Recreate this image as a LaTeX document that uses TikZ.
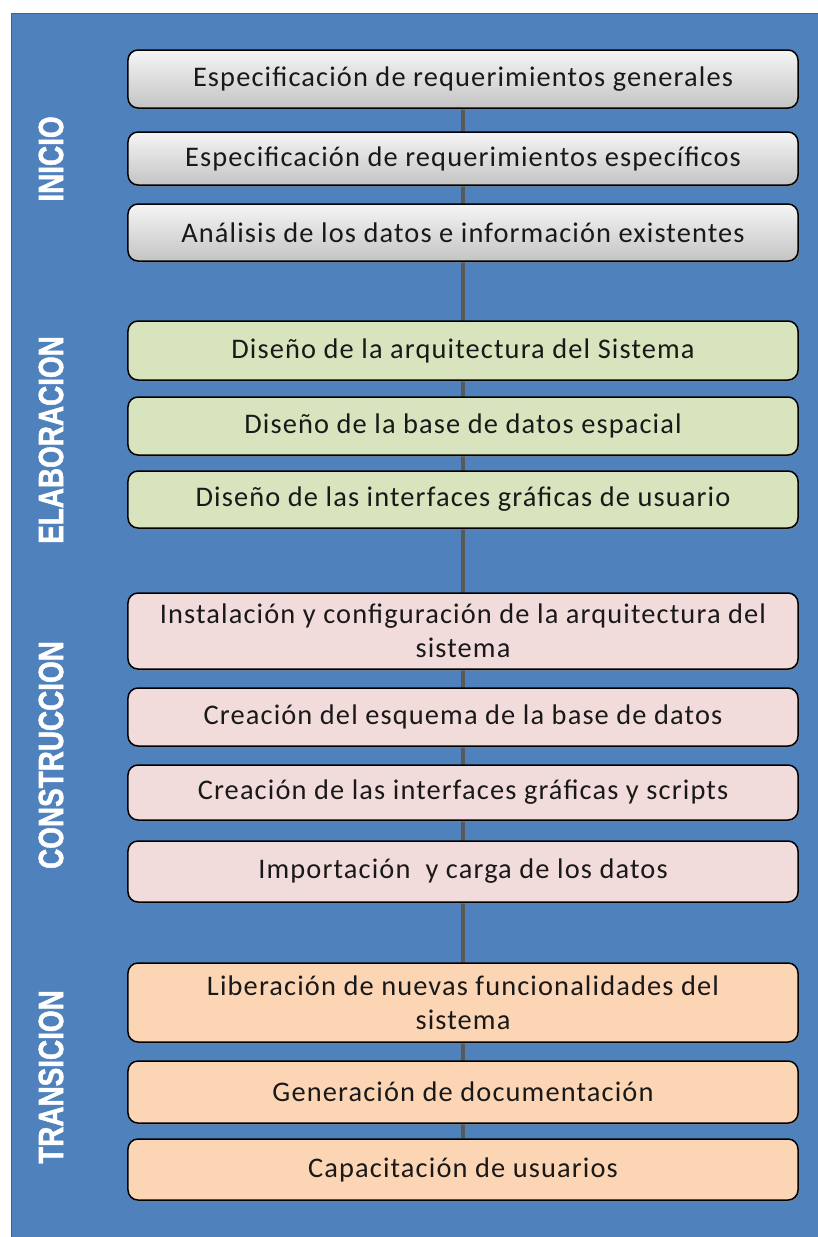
\documentclass[tikz,border=0pt]{standalone}
\usepackage{fontspec}
\setmainfont{Carlito}[LetterSpace=4]
\newfontfamily\phasefont{Liberation Sans Bold}[FakeBold=1.6]
\usetikzlibrary{shadows,backgrounds}

\definecolor{panelblue}{HTML}{4F81BD}
\definecolor{panelline}{HTML}{3A6594}
\definecolor{grayTop}{HTML}{F5F5F5}
\definecolor{grayBot}{HTML}{C4C4C4}
\definecolor{elabFill}{HTML}{D7E4BD}
\definecolor{constFill}{HTML}{F2DCDB}
\definecolor{tranFill}{HTML}{FCD5B5}
\definecolor{spine}{HTML}{595959}

\begin{document}
\begin{tikzpicture}[x=1bp,y=-1bp]
\tikzset{task/.style={draw=black, line width=1.5bp, rounded corners=10bp, minimum width=670bp, inner sep=2bp, align=center, text=black!90, font=\fontsize{28.5}{34}\selectfont, drop shadow={shadow xshift=1.5bp,shadow yshift=-2bp,opacity=.5}}}
\tikzset{phase/.style={rotate=90, text=white, inner sep=0pt, font=\phasefont\fontsize{35}{35}\selectfont}}
\useasboundingbox (0,0) rectangle (818,1237);

% INICIO
\node[task, top color=grayTop, bottom color=grayBot, minimum height=58bp] (gral) at (463,79) {Especificación de requerimientos generales};
\node[task, top color=grayTop, bottom color=grayBot, minimum height=53bp] (espec) at (463,158.5) {Especificación de requerimientos específicos};
\node[task, top color=grayTop, bottom color=grayBot, minimum height=57bp] (analisis) at (463,232.5) {Análisis de los datos e información existentes};
\node[phase] (inicio) at (51,159) {\scalebox{0.8}[1]{INICIO}};

% ELABORACION
\node[task, fill=elabFill, minimum height=59bp] (arq) at (463,350.5) {Diseño de la arquitectura del Sistema};
\node[task, fill=elabFill, minimum height=58bp] (bd) at (463,426) {Diseño de la base de datos espacial};
\node[task, fill=elabFill, minimum height=57bp] (gui) at (463,499.5) {Diseño de las interfaces gráficas de usuario};
\node[phase] (elab) at (51,440) {\scalebox{0.8}[1]{ELABORACION}};

% CONSTRUCCION
\node[task, fill=constFill, minimum height=76bp] (instal) at (463,631) {Instalación y configuración de la arquitectura del\\sistema};
\node[task, fill=constFill, minimum height=58bp] (esquema) at (463,717) {Creación del esquema de la base de datos};
\node[task, fill=constFill, minimum height=55bp] (scripts) at (463,792.5) {Creación de las interfaces gráficas y scripts};
\node[task, fill=constFill, minimum height=61bp] (carga) at (463,871.5) {Importación~ y carga de los datos};
\node[phase] (constr) at (51,755) {\scalebox{0.8}[1]{CONSTRUCCION}};

% TRANSICION
\node[task, fill=tranFill, minimum height=79bp] (liber) at (463,1002.5) {Liberación de nuevas funcionalidades del\\sistema};
\node[task, fill=tranFill, minimum height=62bp] (doc) at (463,1092) {Generación de documentación};
\node[task, fill=tranFill, minimum height=61bp] (capac) at (463,1169.5) {Capacitación de usuarios};
\node[phase] (trans) at (51,1077) {\scalebox{0.8}[1]{TRANSICION}};

\begin{scope}[on background layer]
\fill[panelblue, draw=panelline, line width=1bp] (11,13) rectangle (830,1250);
\draw[spine, line width=4.5bp] (gral) -- (capac);
\end{scope}
\end{tikzpicture}
\end{document}
